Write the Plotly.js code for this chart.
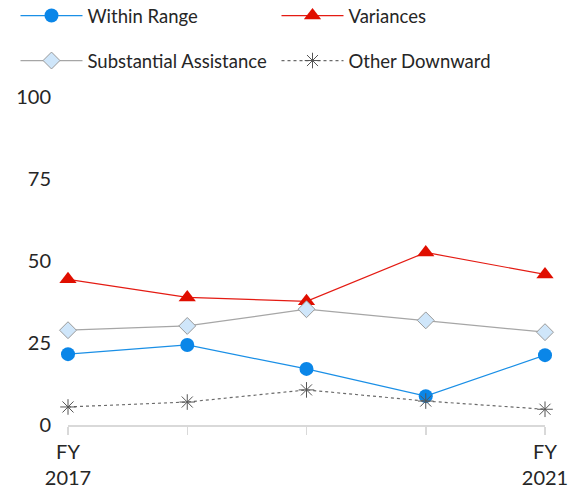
<!DOCTYPE html>
<html>
<head>
<meta charset="utf-8">
<script src="https://cdn.plot.ly/plotly-3.0.1.min.js"></script>
<style>html,body{margin:0;padding:0;background:#fff;}#chart{width:577px;height:492px;}</style>
</head>
<body>
<div id="chart"></div>
<script>
const years = ["2017", "2018", "2019", "2020", "2021"];
const tickLabels = ["FY<br>2017", "", "", "", "FY<br>2021"];
const withinRange = [21.6, 24.4, 17.1, 8.8, 21.3];
const variances = [44.4, 38.9, 37.7, 52.6, 45.9];
const substantialAssistance = [28.9, 30.2, 35.3, 31.9, 28.3];
const otherDownward = [5.5, 7.0, 10.7, 7.3, 4.8];

const FONT = "Lato, 'Open Sans', sans-serif";

const traces = [
  {name: "Within Range", x: years, y: withinRange, type: "scatter", mode: "lines+markers",
   line: {color: "#1a8fe6", width: 1.2},
   marker: {symbol: "circle", size: 14, color: "#0a86e8"}, legend: "legend", cliponaxis: false},
  {name: "Variances", x: years, y: variances, type: "scatter", mode: "lines+markers",
   line: {color: "#e41b13", width: 1.2},
   marker: {symbol: "triangle-up", size: 15, color: "#e00e00"}, legend: "legend2", cliponaxis: false},
  {name: "Substantial Assistance", x: years, y: substantialAssistance, type: "scatter", mode: "lines+markers",
   line: {color: "#a6a6a6", width: 1.2},
   marker: {symbol: "diamond", size: 13, color: "#cfe6fa", line: {color: "#9a9a9a", width: 1}}, legend: "legend3", cliponaxis: false},
  {name: "Other Downward", x: years, y: otherDownward, type: "scatter", mode: "lines+markers",
   line: {color: "#6b6b6b", width: 1.2, dash: "dot"},
   marker: {symbol: "asterisk-open", size: 13, color: "#555555", line: {color: "#555555", width: 1}}, legend: "legend4", cliponaxis: false}
];

const legendBase = {
  orientation: "h", xref: "container", yref: "container", xanchor: "left", yanchor: "middle",
  itemwidth: 62,
  font: {family: FONT, size: 18.5, color: "#262626"}, bgcolor: "rgba(0,0,0,0)"
};
function leg(px, py) {
  return Object.assign({}, legendBase, {x: px / 577, y: 1 - py / 492});
}

const layout = {
  width: 577, height: 492,
  margin: {l: 68, r: 32, t: 97, b: 67, autoexpand: false},
  paper_bgcolor: "#fff", plot_bgcolor: "#fff",
  font: {family: FONT, color: "#262626"},
  showlegend: true,
  legend: leg(15.5, 16),
  legend2: leg(276.5, 16),
  legend3: leg(15.5, 61),
  legend4: leg(276.5, 61),
  xaxis: {
    type: "category", range: [0, 4], tickmode: "array", tickvals: years, ticktext: tickLabels,
    showgrid: false, zeroline: false, showline: true, linecolor: "#d9d9d9", linewidth: 1.5,
    ticks: "outside", ticklen: 8, tickcolor: "#d9d9d9", tickwidth: 1.5,
    tickfont: {family: FONT, size: 20, color: "#262626"}, automargin: false
  },
  yaxis: {
    range: [0, 100], tickvals: [0, 25, 50, 75, 100], showgrid: false, zeroline: false, showline: false,
    ticks: "", ticklabelstandoff: 16,
    tickfont: {family: FONT, size: 20, color: "#262626"}, automargin: false
  }
};

Plotly.newPlot("chart", traces, layout, {displayModeBar: false, staticPlot: true});
</script>
</body>
</html>
